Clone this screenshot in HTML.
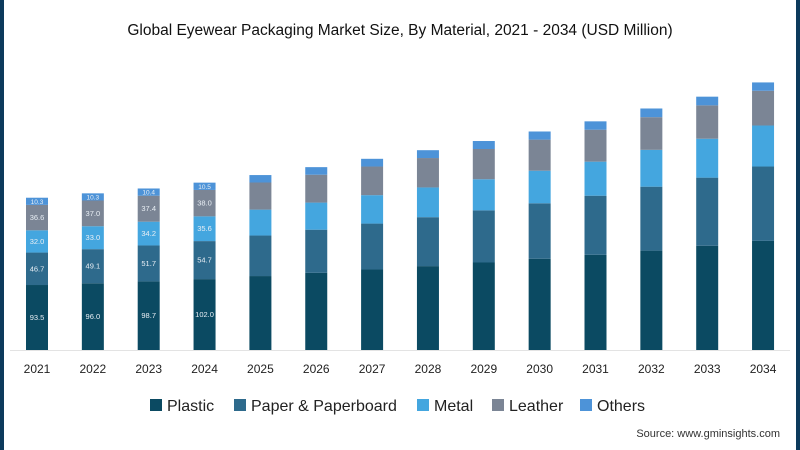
<!DOCTYPE html>
<html><head><meta charset="utf-8"><style>
body{margin:0;background:#fff;}
#wrap{position:relative;width:800px;height:450px;overflow:hidden;font-family:"Liberation Sans",sans-serif;}
</style></head><body>
<div id="wrap">
<svg id="chart" width="800" height="450"></svg>
</div>
<script>
const years=["2021","2022","2023","2024","2025","2026","2027","2028","2029","2030","2031","2032","2033","2034"];
const plastic=[93.5,96.0,98.7,102.0,106.4,111,115.8,120.7,125.9,131.3,137,143,150,157];
const paper=[46.7,49.1,51.7,54.7,58.3,62.1,66.1,70.4,75,79.8,85,92,98,107];
const metal=[32.0,33.0,34.2,35.6,37.3,39,40.9,42.8,44.8,46.9,49,53,56,59];
const leather=[36.6,37.0,37.4,38.0,39,40.1,41.2,42.3,43.5,44.7,46,47,48,50];
const others=[10.3,10.3,10.4,10.5,10.7,10.9,11.1,11.3,11.5,11.7,12,12.5,12.5,12];
const labelYears=4;
const seriesNames=["Plastic","Paper & Paperboard","Metal","Leather","Others"];
const series=[plastic,paper,metal,leather,others];
const colors=["#0b4a62","#2e6a8c","#44a6df","#7b8595","#4d93d8"];
const NS="http://www.w3.org/2000/svg";
const svg=document.getElementById('chart');
const baseY=350,scale=0.695,x0=37,step=55.85,bw=22;
function yS(v){return v*scale;}
function xS(i){return x0+i*step;}
function mk(t,a,p){const e=document.createElementNS(NS,t);for(const k in a)e.setAttribute(k,a[k]);(p||svg).appendChild(e);return e;}
// side borders
let e=mk('rect',{x:0,y:0,width:4,height:450,fill:'#0d3a5c'});


e=mk('rect',{x:796,y:0,width:4,height:450,fill:'#0d3a5c'});


e=mk('text',{x:400,y:35,'text-anchor':'middle','font-size':'15.5',fill:'#111'});
e.textContent='Global Eyewear Packaging Market Size, By Material, 2021 - 2034 (USD Million)';


e=mk('line',{x1:10,x2:790,y1:baseY+0.5,y2:baseY+0.5,stroke:'#e3e3e3','stroke-width':1});


years.forEach((yr,i)=>{
  let cum=0;
  series.forEach((s,k)=>{
    const h=yS(s[i]);const top=baseY-yS(cum)-h;
    const r=mk('rect',{x:xS(i)-bw/2,y:top,width:bw,height:h,fill:colors[k]});
    
    
    if(i<labelYears){
      const t=mk('text',{x:xS(i),y:top+h/2+2.5,'text-anchor':'middle','font-size':k==4?'6.5':'7.5',fill:'#e8eef4'});
      t.textContent=s[i].toFixed(1);
      
      
    }
    cum+=s[i];
  });
  const t=mk('text',{x:xS(i),y:373,'text-anchor':'middle','font-size':'12',fill:'#222'});
  t.textContent=yr;
  
  
});
const lx=[150,234,417,492,580];
seriesNames.forEach((n,k)=>{
  const r=mk('rect',{x:lx[k],y:399,width:12,height:12,fill:colors[k]});
  
  
  const t=mk('text',{x:lx[k]+17,y:411,'font-size':'16',fill:'#222'});
  t.textContent=n;
  
  
});
e=mk('text',{x:780,y:437,'text-anchor':'end','font-size':'11',fill:'#333'});
e.textContent='Source: www.gminsights.com';


</script>
</body></html>
